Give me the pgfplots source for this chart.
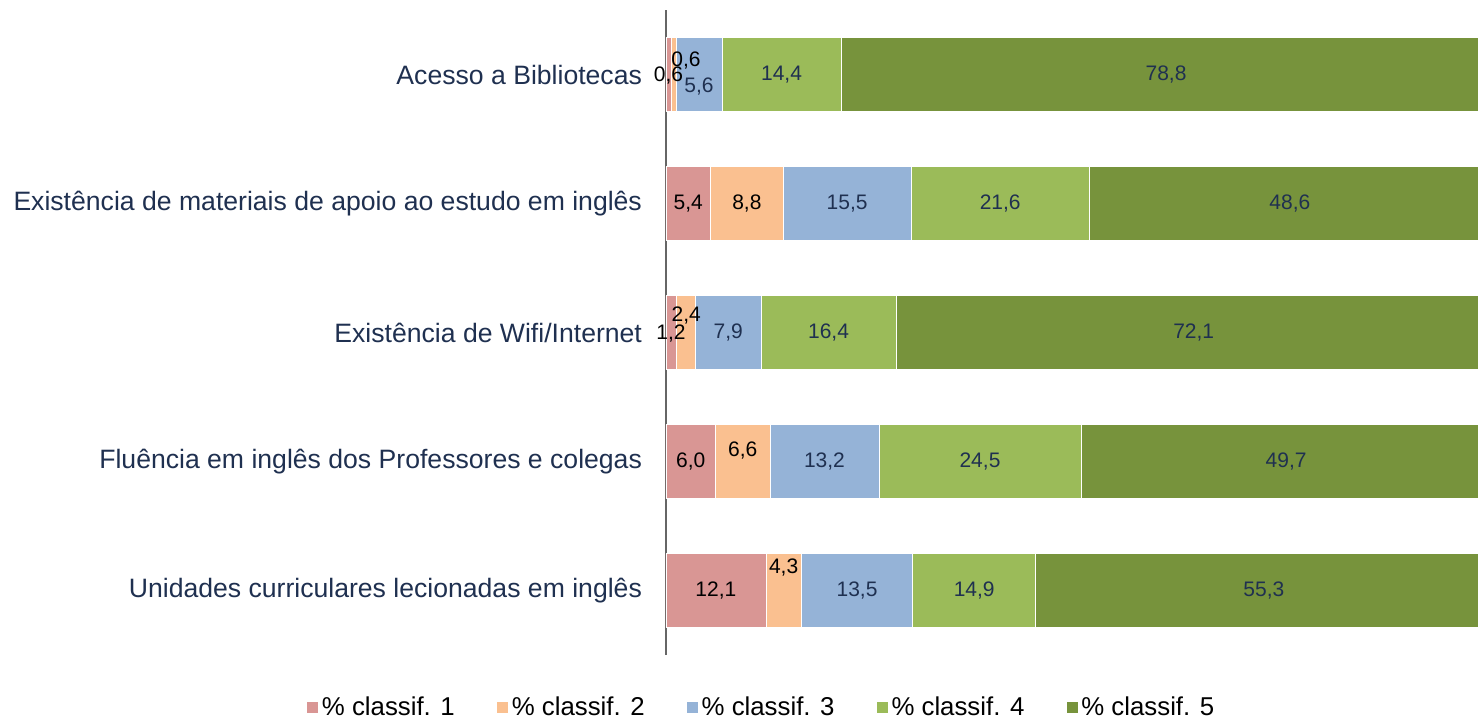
\documentclass[border=0pt]{standalone}
\usepackage{fontspec}
\setmainfont{Liberation Sans}
\usepackage{pgfplots}
\pgfplotsset{compat=1.18}
\definecolor{c1}{HTML}{D99694}
\definecolor{c2}{HTML}{FAC090}
\definecolor{c3}{HTML}{95B3D7}
\definecolor{c4}{HTML}{9BBB59}
\definecolor{c5}{HTML}{77933C}
\definecolor{navy}{HTML}{1F3050}
\pgfplotstableread{
x y lab
0.3 3.99 0,6
2.42 4.11 0,6
2.7 3 5,4
9.8 3 8,8
0.6 1.99 1,2
2.45 2.13 2,4
3.0 1 6,0
9.3 1.085 6,6
6.05 0 12,1
14.25 0.18 4,3
}\blacklabels
\pgfplotstableread{
x y lab
4.0 3.907 5,6
14.0 4 14,4
60.6 4 78,8
21.95 3 15,5
40.5 3 21,6
75.6 3 48,6
7.55 2 7,9
19.7 2 16,4
63.95 2 72,1
19.2 1 13,2
38.05 1 24,5
75.15 1 49,7
23.15 0 13,5
37.35 0 14,9
72.45 0 55,3
}\navylabels
\begin{document}
\begin{tikzpicture}[x=1pt,y=1pt]
\useasboundingbox (0,0) rectangle (739,359.5);
\begin{axis}[
  at={(333pt,32pt)}, anchor=south west, scale only axis,
  width=406pt, height=322.5pt,
  xbar stacked, bar width=37pt,
  xmin=0, xmax=98.4, ymin=-0.5, ymax=4.5,
  axis x line=none, axis y line*=left,
  y axis line style={draw=gray!80!black, line width=0.6pt, -},
  ytick={0,1,2,3,4},
  yticklabels={Unidades curriculares lecionadas em inglês,
    Fluência em inglês dos Professores e colegas,
    Existência de Wifi/Internet,
    Existência de materiais de apoio ao estudo em inglês,
    Acesso a Bibliotecas},
  major tick length=0pt,
  yticklabel style={font=\fontsize{13.3}{15}\selectfont, text=navy, xshift=-8.5pt},
  legend columns=5,
  legend style={draw=none, at={(0.118,-0.081)}, anchor=center,
    font=\fontsize{12.9}{14}\selectfont, text=black,
    /tikz/every even column/.append style={column sep=19.2pt},
    nodes={inner xsep=1.5pt}},
  legend image code/.code={\fill[#1] (0pt,-3pt) rectangle (6pt,3pt);},
]
\addplot[fill=c1, draw=white, line width=0.3pt] coordinates {(12.1,0) (6.0,1) (1.2,2) (5.4,3) (0.6,4)};
\addplot[fill=c2, draw=white, line width=0.3pt] coordinates {(4.3,0) (6.6,1) (2.4,2) (8.8,3) (0.6,4)};
\addplot[fill=c3, draw=white, line width=0.3pt] coordinates {(13.5,0) (13.2,1) (7.9,2) (15.5,3) (5.6,4)};
\addplot[fill=c4, draw=white, line width=0.3pt] coordinates {(14.9,0) (24.5,1) (16.4,2) (21.6,3) (14.4,4)};
\addplot[fill=c5, draw=white, line width=0.3pt] coordinates {(55.3,0) (49.7,1) (72.1,2) (48.6,3) (78.8,4)};
\legend{\% classif. 1,\% classif. 2,\% classif. 3,\% classif. 4,\% classif. 5}
\end{axis}
\begin{axis}[
  at={(333pt,32pt)}, anchor=south west, scale only axis,
  width=406pt, height=322.5pt,
  xmin=0, xmax=98.4, ymin=-0.5, ymax=4.5,
  hide axis, clip=false,
]
\addplot[draw=none, mark=none, nodes near coords, point meta=explicit symbolic,
  every node near coord/.append style={anchor=center, inner sep=0pt,
    font=\fontsize{10.5}{12}\selectfont, text=black}]
  table[x=x, y=y, meta=lab] {\blacklabels};
\addplot[draw=none, mark=none, nodes near coords, point meta=explicit symbolic,
  every node near coord/.append style={anchor=center, inner sep=0pt,
    font=\fontsize{10.5}{12}\selectfont, text=navy}]
  table[x=x, y=y, meta=lab] {\navylabels};
\end{axis}
\end{tikzpicture}
\end{document}
